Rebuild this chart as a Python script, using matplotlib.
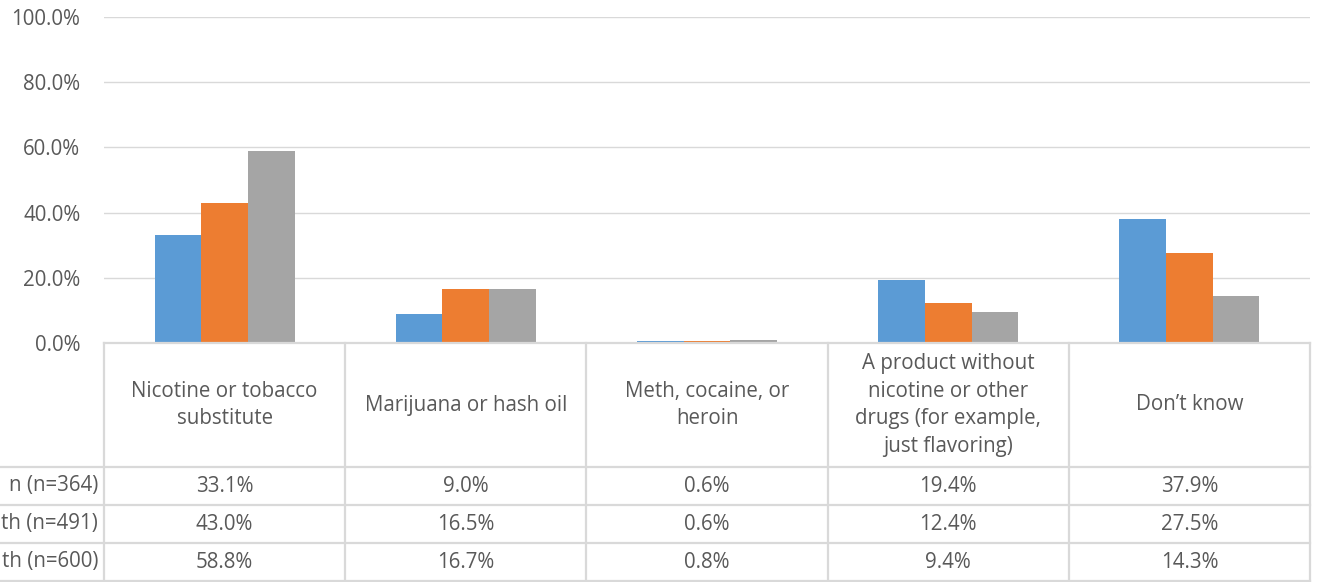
import matplotlib
matplotlib.use("Agg")
import matplotlib.pyplot as plt
from matplotlib.ticker import FuncFormatter, MultipleLocator

plt.rcParams['font.family'] = ['Open Sans', 'DejaVu Sans']

categories = [
    "Nicotine or tobacco\nsubstitute",
    "Marijuana or hash oil",
    "Meth, cocaine, or\nheroin",
    "A product without\nnicotine or other\ndrugs (for example,\njust flavoring)",
    "Don\u2019t know",
]
series_labels = ["n (n=364)", "th (n=491)", "th (n=600)"]
series1 = [33.1, 9.0, 0.6, 19.4, 37.9]
series2 = [43.0, 16.5, 0.6, 12.4, 27.5]
series3 = [58.8, 16.7, 0.8, 9.4, 14.3]
series = [series1, series2, series3]
colors = ["#5B9BD5", "#ED7D31", "#A5A5A5"]

W, H = 1320, 582
fig = plt.figure(figsize=(W / 100, H / 100), dpi=100)

left_px, right_px = 104, 1310
top_px, base_px, bottom_px = 17, 343, 581
ax = fig.add_axes([left_px / W, (H - base_px) / H, (right_px - left_px) / W, (base_px - top_px) / H])

n = len(categories)
bw = 0.1935
for i, (vals, c) in enumerate(zip(series, colors)):
    xs = [k + (i - 1) * bw for k in range(n)]
    ax.bar(xs, vals, width=bw, color=c, zorder=3)

FS = 14.8
ax.set_xlim(-0.5, n - 0.5)
ax.set_ylim(0, 100)
ax.yaxis.set_major_locator(MultipleLocator(20))
ax.yaxis.set_major_formatter(FuncFormatter(lambda v, p: f"{v:.1f}%"))
ax.tick_params(axis='y', length=0, pad=17, labelsize=FS, labelcolor="#595959")
ax.set_xticks([])
ax.grid(axis='y', color="#D9D9D9", linewidth=1.0, zorder=0)
for s in ax.spines.values():
    s.set_visible(False)

# Data table
tax = fig.add_axes([left_px / W, (H - bottom_px) / H, (right_px - left_px) / W, (bottom_px - base_px) / H])
tax.set_xlim(-0.5, n - 0.5)
tab_h = bottom_px - base_px
tax.set_ylim(tab_h, 0)
tax.axis('off')
hdr = 124
row_h = (tab_h - hdr) / 3
lc = "#D9D9D9"
px_per_cat = (right_px - left_px) / n
far_left = -0.5 - left_px / px_per_cat

tax.plot([-0.5, n - 0.5], [0, 0], color=lc, lw=1.6, clip_on=False)
for k in range(n + 1):
    tax.plot([k - 0.5, k - 0.5], [0, tab_h], color=lc, lw=1.6, clip_on=False)
for r in range(4):
    y = hdr + r * row_h
    tax.plot([far_left, n - 0.5], [y, y], color=lc, lw=1.6, clip_on=False)

txtc = "#595959"
for k, cat in enumerate(categories):
    tax.text(k, hdr / 2, cat, ha='center', va='center', fontsize=FS, color=txtc, linespacing=1.42)
for r, (lab, vals) in enumerate(zip(series_labels, series)):
    yc = hdr + (r + 0.5) * row_h
    tax.text(-0.5 - 6 / px_per_cat, yc, lab, ha='right', va='center', fontsize=FS, color=txtc, clip_on=False)
    for k, v in enumerate(vals):
        tax.text(k, yc, f"{v:.1f}%", ha='center', va='center', fontsize=FS, color=txtc)

fig.savefig("out.png", dpi=100)
